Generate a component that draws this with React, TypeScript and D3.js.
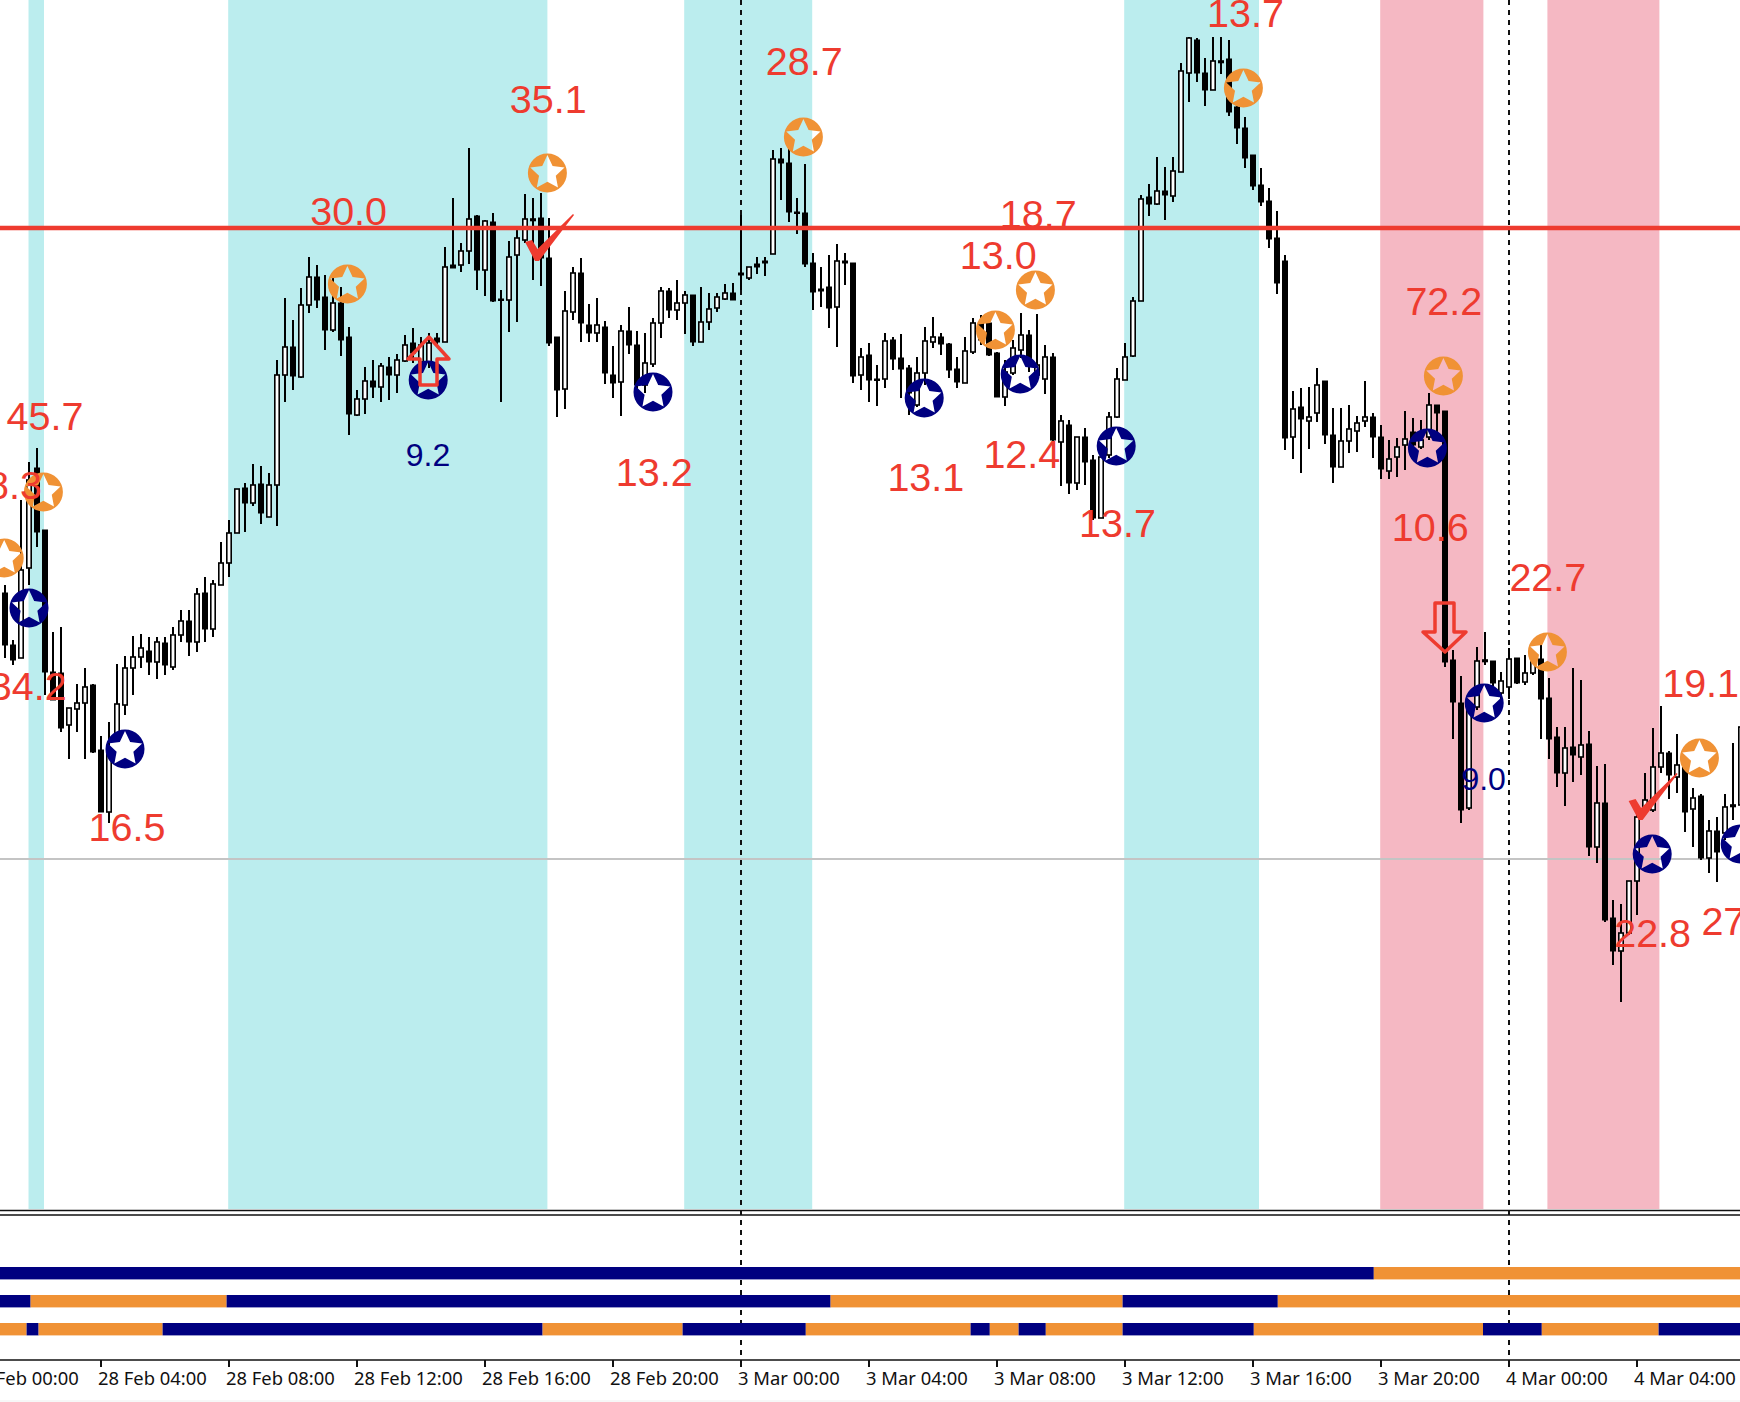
import React from "react";
import * as d3 from "d3";

// Readings: bar number along the chart, and chart level (grows downward)
const opens = [
  593,645,658,568,468,530,672,673,725,709, 703,685,750,812,740,705,668,657,651,662,
  643,667,635,621,642,593,629,585,563,533, 488,503,484,517,485,375,347,377,305,277,
  297,330,303,337,415,399,381,387,367,375, 361,343,362,362,338,342,265,265,251,216,
  270,222,299,300,255,240,220,218,258,337, 389,312,273,325,333,327,375,382,331,345,
  385,364,323,291,310,303,295,342,322,308, 299,293,273,278,264,261,254,159,163,212,
  213,263,289,287,307,261,263,375,355,379, 379,340,358,368,405,373,342,337,344,369,
  383,352,323,323,353,397,373,350,335,375, 379,357,442,425,483,437,460,518,455,417,
  380,356,301,197,204,191,196,172,73,40, 73,90,62,59,107,128,155,185,201,238,
  261,437,407,421,413,381,435,467,441,431, 421,417,437,471,457,445,432,447,437,405,
  411,660,703,808,707,661,661,693,687,658, 682,673,659,698,737,773,747,757,744,847,
  803,918,951,933,881,812,810,767,753,777, 767,809,796,858,831,833,806,805,
];
const closes = [
  645,660,570,480,532,672,700,728,708,703, 687,752,812,753,704,668,657,648,662,642,
  665,635,621,642,594,629,584,563,533,489, 503,485,513,485,375,347,376,305,277,300,
  330,303,340,414,399,381,387,366,375,360, 345,353,345,343,342,267,268,251,219,270,
  221,301,300,257,238,219,219,258,343,390, 311,273,323,333,325,373,383,331,345,385,
  363,323,291,310,303,295,342,322,309,297, 293,300,275,267,267,263,159,163,212,213,
  264,292,291,308,261,263,376,357,380,380, 341,359,369,393,373,341,337,344,370,382,
  351,323,340,355,397,372,348,335,363,365, 357,440,421,483,437,462,518,457,417,379,
  357,301,199,204,191,195,171,71,38,73, 90,61,61,112,128,158,186,202,239,283,
  438,409,419,417,385,435,467,441,429,423, 417,437,469,459,447,439,445,440,405,413,
  662,702,810,705,661,660,683,681,659,683, 673,662,699,739,773,748,755,745,847,803,
  920,951,933,881,817,800,767,753,775,765, 812,798,858,831,852,807,805,727,
];
const highs = [
  585,640,500,462,448,530,632,627,708,684, 668,684,736,722,664,656,636,634,637,637,
  637,627,610,610,588,577,580,542,520,489, 483,464,466,473,360,298,320,288,257,265,
  275,275,287,327,390,367,360,363,357,354, 335,328,337,333,333,247,198,243,148,215,
  220,213,290,241,230,194,198,193,218,337, 291,267,258,304,298,321,346,325,307,331,
  333,318,287,288,280,291,295,287,293,293, 284,283,215,267,257,257,150,148,148,198,
  164,253,267,255,244,253,263,348,343,365, 333,337,334,365,357,327,317,333,343,357,
  337,318,315,320,352,360,340,313,330,314, 345,353,415,420,437,428,455,457,412,368,
  343,297,195,184,157,167,157,63,37,38, 58,37,37,40,105,117,155,168,188,211,
  255,391,388,387,368,381,408,408,405,416, 381,413,425,440,438,411,418,420,393,405,
  411,650,676,700,647,632,661,672,648,658, 655,655,645,678,727,727,668,680,731,766,
  764,900,904,881,810,773,728,706,751,734, 760,788,794,820,817,794,743,720,
];
const lows = [
  658,665,658,585,547,695,700,732,759,732, 759,753,812,823,740,715,695,668,675,679,
  675,670,642,656,652,642,637,585,577,533, 532,506,524,517,526,402,390,378,313,308,
  350,332,356,435,416,414,398,402,400,393, 362,363,365,368,345,342,268,272,264,290,
  296,302,402,332,322,243,280,286,346,417, 409,320,342,342,342,384,398,416,354,395,
  393,367,338,318,320,334,346,342,330,312, 300,300,290,280,274,276,254,200,222,234,
  267,310,307,328,347,285,383,390,402,406, 388,370,398,415,407,385,348,355,378,388,
  383,354,345,356,397,406,375,358,372,378, 394,445,486,494,490,485,520,518,458,418,
  380,357,301,216,205,220,202,172,102,82, 106,90,74,116,144,168,190,206,248,294,
  450,459,473,449,422,444,483,467,453,452, 427,458,479,479,477,470,450,449,440,440,
  667,739,823,810,710,665,690,700,699,684, 685,675,739,759,787,806,782,775,856,863,
  922,965,1002,935,915,815,812,773,799,793, 832,847,860,873,882,840,820,805,
];

const tealZones = [[2.94,4.875],[27.9,67.8],[84.9,100.9],[139.9,156.75]];
const pinkZones = [[171.9,184.8],[192.8,206.8]];

const timeTicks = [-4,12,28,44,60,76,92,108,124,140,156,172,188,204];
const timeLabels = ["28 Feb 00:00","28 Feb 04:00","28 Feb 08:00","28 Feb 12:00","28 Feb 16:00","28 Feb 20:00","3 Mar 00:00","3 Mar 04:00","3 Mar 08:00","3 Mar 12:00","3 Mar 16:00","3 Mar 20:00","4 Mar 00:00","4 Mar 04:00"];

const dayBreaks = [92,188];
const resistanceLevel = 228;
const referenceLevel = 859;

const orangeBars = [4.8,-0.1,42.8,67.8,99.8,123.8,128.8,154.8,179.8,192.8,211.8];
const orangeLevels = [492,558,284,173,137,330,290,88,376,652,758];
const navyBars = [3,15,52.9,81,114.9,126.9,138.9,177.8,184.9,205.9,216.9];
const navyLevels = [608,749,380,392,398,374,446,448,703,854,844];

const redTexts = ["45.7","48.3","34.2","16.5","30.0","35.1","28.7","13.2","13.1","12.4","13.0","18.7","13.7","13.7","72.2","10.6","22.7","19.1","22.8","27"];
const redTextBars = [0.2,-5,-1.9,10.45,38.15,63.1,95.1,76.35,110.3,122.3,119.35,124.35,134.25,150.25,175.05,173.35,188.05,207.15,201.15,212.05];
const redTextLevels = [430,499,700,841,225,113,75,486,491,468,269,228,537,27,315,541,591,697,947,935];
const navyTexts = ["9.2","9.0"];
const navyTextBars = [50.1,182.05];
const navyTextLevels = [466,790];

const upArrows = [{ bar: 53, level: 337 }];
const downArrows = [{ bar: 180, level: 652 }];
const checks = [{ bar: 66.25, level: 261 }, { bar: 204.2, level: 820 }];

// Signal strips: colour switches at these bar numbers; first colour given
const stripBreaks = [
  [171.1],
  [3.2,27.7,103.2,139.7,159.1],
  [2.7,4.2,19.7,67.2,84.7,100.1,120.7,123.1,126.7,130.1,139.7,156.1,184.75,192.1,206.7],
];
const stripFirst = ["navy","navy","orange"];

const W = 1740, H = 1402;
const RED = "#ee3b2f", NAVY = "#000080", ORANGE = "#f09235", TEAL = "#bbedee", PINK = "#f5b8c3";
const x = d3.scaleLinear().domain([0, 216]).range([5, 1733]);
const y = d3.scaleLinear().domain([0, 1210]).range([0, 1210]);
const colours: any = { navy: NAVY, orange: ORANGE };
const TEXT_FONT = "'Liberation Sans', Arial, sans-serif";

const DISC_R = 19.5, STAR_OUT = 18, STAR_IN = 8.8;
const starIdx = d3.range(10);
const starPath = d3.lineRadial<number>()
  .angle((i) => (i * Math.PI) / 5)
  .radius((i) => (i % 2 === 0 ? STAR_OUT : STAR_IN))
  .curve(d3.curveLinearClosed)(starIdx) as string;
const discPathObj = d3.path();
discPathObj.moveTo(DISC_R, 0);
discPathObj.arc(0, 0, DISC_R, 0, Math.PI * 2);
discPathObj.closePath();
const markerPath = discPathObj.toString() + starPath;

function Marker({ bar, level, colour }: any) {
  return <path transform={`translate(${x(bar)},${y(level)})`} d={markerPath} fill={colour} fillRule="evenodd" />;
}

export default function App() {
  const rows = [y(1267), y(1295), y(1323)];
  return (
    <svg width={W} height={H} viewBox={`0 0 ${W} ${H}`} style={{ position: "absolute", left: 0, top: 0, display: "block", background: "#fff" }}>
      {tealZones.map((z, i) => <rect key={i} x={x(z[0])} width={x(z[1]) - x(z[0])} y={0} height={y(1209)} fill={TEAL} />)}
      {pinkZones.map((z, i) => <rect key={i} x={x(z[0])} width={x(z[1]) - x(z[0])} y={0} height={y(1209)} fill={PINK} />)}

      <line x1={0} x2={W} y1={y(referenceLevel)} y2={y(referenceLevel)} stroke="#c4c4c4" strokeWidth={2} />
      {dayBreaks.map((b) => (
        <line key={b} x1={x(b)} x2={x(b)} y1={0} y2={1366} stroke="#111" strokeWidth={2} strokeDasharray="5 5" />
      ))}

      {opens.map((o, i) => {
        const c = closes[i], cx = x(i);
        const top = y(Math.min(o, c)), bottom = y(Math.max(o, c));
        const bull = c < o;
        return (
          <g key={i}>
            <line x1={cx} x2={cx} y1={y(highs[i])} y2={y(lows[i])} stroke="#000" strokeWidth={2} />
            {bull ? (
              <rect x={cx - 2.2} width={4.4} y={top} height={Math.max(bottom - top, 1.5)} fill="#fff" stroke="#000" strokeWidth={1.6} />
            ) : (
              <rect x={cx - 3} width={6} y={top - 0.5} height={Math.max(bottom - top + 1, 2.5)} fill="#000" />
            )}
          </g>
        );
      })}

      <line x1={0} x2={W} y1={y(resistanceLevel)} y2={y(resistanceLevel)} stroke={RED} strokeWidth={4.4} />

      {orangeBars.map((b, i) => <Marker key={i} bar={b} level={orangeLevels[i]} colour={ORANGE} />)}
      {navyBars.map((b, i) => <Marker key={i} bar={b} level={navyLevels[i]} colour={NAVY} />)}

      {upArrows.map((a, i) => {
        const t = x(a.bar), v = y(a.level);
        const pts = [[t, v], [t + 20, v + 22], [t + 8, v + 22], [t + 8, v + 48], [t - 9, v + 48], [t - 9, v + 22], [t - 21, v + 22]];
        return <polygon key={i} points={pts.join(" ")} fill="none" stroke={RED} strokeWidth={3.5} strokeLinejoin="round" />;
      })}
      {downArrows.map((a, i) => {
        const t = x(a.bar), v = y(a.level);
        const pts = [[t, v], [t + 21, v - 20], [t + 9, v - 20], [t + 9, v - 49], [t - 10, v - 49], [t - 10, v - 20], [t - 22, v - 20]];
        return <polygon key={i} points={pts.join(" ")} fill="none" stroke={RED} strokeWidth={3.5} strokeLinejoin="round" />;
      })}
      {checks.map((a, i) => {
        const t = x(a.bar), v = y(a.level);
        const pts = [[t, v], [t - 10, v - 19], [t - 3, v - 21], [t + 2.5, v - 12], [t + 38, v - 47], [t + 39, v - 46], [t + 10, v - 8], [t + 4, v]];
        return <polygon key={i} points={pts.join(" ")} fill={RED} />;
      })}

      {redTexts.map((s, i) => (
        <text key={i} x={x(redTextBars[i])} y={y(redTextLevels[i])} fill={RED} fontFamily={TEXT_FONT} fontSize={39.5}>{s}</text>
      ))}
      {navyTexts.map((s, i) => (
        <text key={i} x={x(navyTextBars[i])} y={y(navyTextLevels[i])} fill={NAVY} fontFamily={TEXT_FONT} fontSize={32}>{s}</text>
      ))}

      <line x1={0} x2={W} y1={1210.5} y2={1210.5} stroke="#111" strokeWidth={1.6} />
      <line x1={0} x2={W} y1={1215} y2={1215} stroke="#111" strokeWidth={1.6} />

      {stripBreaks.map((br, r) => {
        const edges = [-1, ...br, 220];
        const first = stripFirst[r];
        return edges.slice(0, -1).map((e, i) => {
          const name = (i % 2 === 0) === (first === "navy") ? "navy" : "orange";
          return <rect key={`${r}-${i}`} x={x(e)} width={x(edges[i + 1]) - x(e)} y={rows[r]} height={12.4} fill={colours[name]} />;
        });
      })}

      <line x1={0} x2={W} y1={1360} y2={1360} stroke="#111" strokeWidth={1.6} />
      {timeTicks.map((t, i) => (
        <g key={t}>
          <line x1={x(t)} x2={x(t)} y1={1360} y2={1367} stroke="#111" strokeWidth={2} />
          <text x={x(t) - 3} y={1385} fill="#111" fontFamily="'Noto Sans', sans-serif" fontSize={18.4}>{timeLabels[i]}</text>
        </g>
      ))}
      <line x1={0} x2={W} y1={1401} y2={1401} stroke="#efefef" strokeWidth={1} />
    </svg>
  );
}
